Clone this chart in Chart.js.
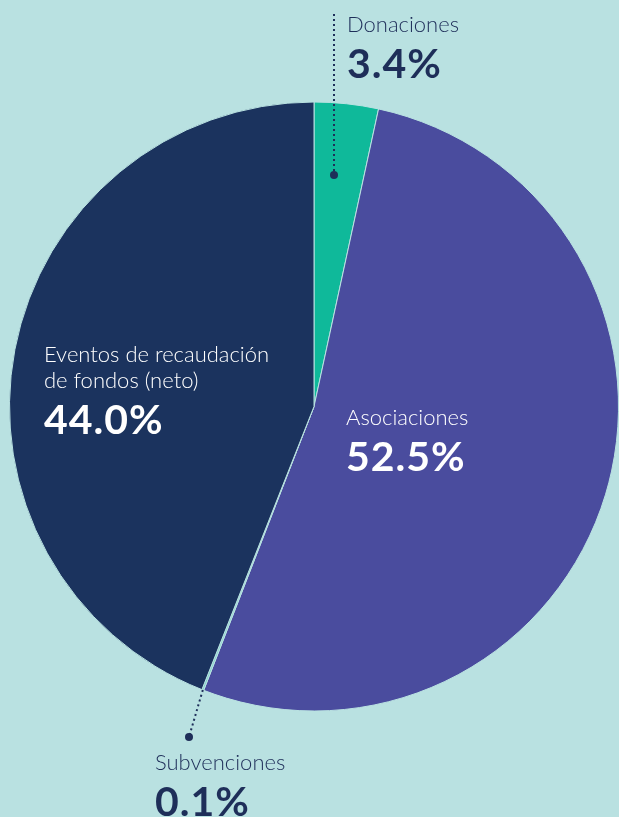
<!DOCTYPE html>
<html>
<head>
<meta charset="utf-8">
<script src="https://cdn.jsdelivr.net/npm/chart.js@4"></script>
<style>
  html, body { margin: 0; padding: 0; background: #b9e1e1; }
  #wrap { width: 619px; height: 817px; position: relative; }
</style>
</head>
<body>
<div id="wrap"><canvas id="myChart" width="619" height="817"></canvas></div>
<script>
// chart data
const categories = ['Donaciones', 'Asociaciones', 'Subvenciones', 'Eventos de recaudación de fondos (neto)'];
const shares = [3.4, 52.5, 0.1, 44.0];
const shareLabels = ['3.4%', '52.5%', '0.1%', '44.0%'];
const sliceColors = ['#0fb99a', '#4a4c9e', '#7fd3cc', '#1b335e'];

const bg = '#b9e1e1';
const darkText = '#1e2e59';

// draws labels + dotted leader lines
const labelPlugin = {
    id: 'sliceLabels',
    afterDraw(chart) {
        const ctx = chart.ctx;
        const arcs = chart.getDatasetMeta(0).data;

        function dotted(x1, y1, x2, y2) {
            ctx.save();
            ctx.strokeStyle = darkText;
            ctx.lineWidth = 2;
            ctx.setLineDash([2, 3]);
            ctx.beginPath();
            ctx.moveTo(x1, y1);
            ctx.lineTo(x2, y2);
            ctx.stroke();
            ctx.restore();
            ctx.fillStyle = darkText;
            ctx.beginPath();
            ctx.arc(x2, y2, 4, 0, Math.PI * 2);
            ctx.fill();
        }

        function label(lines, pct, x, y, color) {
            ctx.save();
            ctx.fillStyle = color;
            ctx.textAlign = 'left';
            ctx.textBaseline = 'alphabetic';
            ctx.font = '300 22px Lato';
            lines.forEach((l, i) => ctx.fillText(l, x, y + i * 26));
            ctx.font = 'bold 41px Lato';
            ctx.letterSpacing = '1px';
            ctx.fillText(pct, x, y + (lines.length - 1) * 26 + 46);
            ctx.restore();
        }

        // Donaciones: line straight up from inside slice
        dotted(334, 14, 334, 175);
        label(['Donaciones'], shareLabels[0], 347, 32, darkText);

        // Subvenciones: from the rim of the tiny slice
        const a = arcs[2];
        const ang = (a.startAngle + a.endAngle) / 2;
        const ex = a.x + Math.cos(ang) * a.outerRadius;
        const ey = a.y + Math.sin(ang) * a.outerRadius;
        dotted(ex, ey, 189, 737);
        label(['Subvenciones'], shareLabels[2], 155, 770, darkText);

        label(['Eventos de recaudación', 'de fondos (neto)'], shareLabels[3], 44, 362, '#ffffff');
        label(['Asociaciones'], shareLabels[1], 346, 425, '#ffffff');
    }
};

const ctx = document.getElementById('myChart').getContext('2d');
new Chart(ctx, {
    type: 'pie',
    data: {
        labels: categories,
        datasets: [{
            data: shares,
            backgroundColor: sliceColors,
            borderColor: bg,
            borderWidth: 1
        }]
    },
    options: {
        responsive: false,
        animation: false,
        layout: {
            padding: { left: 9, right: 0, top: 101, bottom: 105 }
        },
        plugins: {
            legend: { display: false },
            tooltip: { enabled: false }
        }
    },
    plugins: [labelPlugin]
});
</script>
</body>
</html>
